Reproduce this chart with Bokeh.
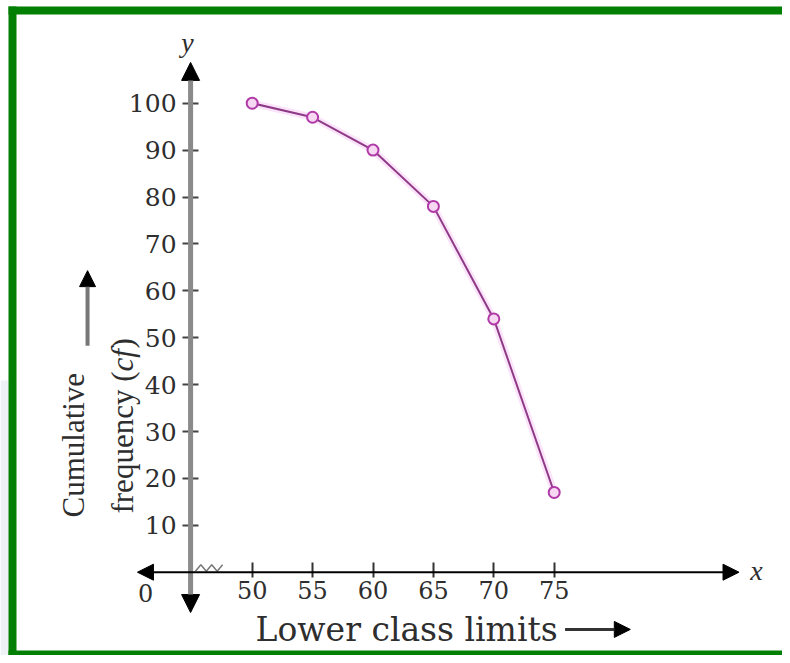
import math
from bokeh.plotting import figure
from bokeh.models import LinearAxis, FixedTicker, Arrow, NormalHead
from bokeh.core.properties import value
from bokeh.embed import file_html
from bokeh.resources import INLINE

# ---- data ----
lower_limits = [50, 55, 60, 65, 70, 75]
cum_freq = [100, 97, 90, 78, 54, 17]
x_ticks = [50, 55, 60, 65, 70, 75]
y_ticks = [10, 20, 30, 40, 50, 60, 70, 80, 90, 100]
x_title = "Lower class limits"
y_title_1 = "Cumulative"
y_title_2 = "frequency ("
y_title_cf = "cf"
y_title_3 = ")"

# ---- layout ----
W, H = 782, 655
PX_X = 12.08   # pixels per x unit
PX_Y = 4.69    # pixels per y unit
X_LO = 50 - 251.7 / PX_X
X_HI = X_LO + W / PX_X
Y_HI = 571.7 / PX_Y
Y_LO = Y_HI - H / PX_Y
Y_AXIS_AT = 44.9


def px2x(px):
    return X_LO + px / PX_X


def py2y(py):
    return Y_HI - py / PX_Y


SERIF = value("DejaVu Serif")
TIMES = value("Liberation Serif")
TXT = "#2e2e2e"
GREEN = "#037f03"

p = figure(width=W, height=H, x_range=(X_LO, X_HI), y_range=(Y_LO, Y_HI),
           x_axis_type=None, y_axis_type=None, min_border=0,
           toolbar_location=None, output_backend="svg")
p.grid.visible = False
p.outline_line_color = None
p.background_fill_color = "white"
p.border_fill_color = "white"

# light margin strip at the far left
p.quad(left=[px2x(0)], right=[px2x(8)], top=[py2y(380)], bottom=[py2y(H)],
       fill_color="#eef1f6", line_color=None)

# green frame (left, top, bottom bands) drawn as thick lines
p.line([px2x(12), px2x(12)], [py2y(6), py2y(H)], line_color=GREEN, line_width=8)
p.line([px2x(8), px2x(W + 20)], [py2y(10), py2y(10)], line_color=GREEN, line_width=8)
p.line([px2x(8), px2x(W + 20)], [py2y(653), py2y(653)], line_color=GREEN, line_width=6)

# axes
xax = LinearAxis(fixed_location=0, ticker=FixedTicker(ticks=x_ticks))
xax.axis_line_color = None
xax.major_tick_in = 10
xax.major_tick_out = 5
xax.major_tick_line_color = "#333333"
xax.major_tick_line_width = 2
xax.minor_tick_line_color = None
xax.major_label_standoff = 4
xax.major_label_text_font = "DejaVu Serif"
xax.major_label_text_font_size = "24px"
xax.major_label_text_color = TXT
p.add_layout(xax, "below")

yax = LinearAxis(fixed_location=Y_AXIS_AT, ticker=FixedTicker(ticks=y_ticks))
yax.axis_line_color = None
yax.major_tick_in = 8
yax.major_tick_out = 8
yax.major_tick_line_color = "#444444"
yax.major_tick_line_width = 2
yax.minor_tick_line_color = None
yax.major_label_standoff = 6
yax.major_label_text_font = "DejaVu Serif"
yax.major_label_text_font_size = "25px"
yax.major_label_text_color = TXT
p.add_layout(yax, "left")

# axis lines with arrowheads
p.add_layout(Arrow(x_start=Y_AXIS_AT, y_start=-8.6, x_end=Y_AXIS_AT, y_end=108.7,
                   line_color="#8a8a8a", line_width=5,
                   start=NormalHead(size=18, fill_color="black", line_color="black"),
                   end=NormalHead(size=18, fill_color="black", line_color="black")))
p.add_layout(Arrow(x_start=40.5, y_start=0, x_end=90.3, y_end=0,
                   line_color="black", line_width=2,
                   start=NormalHead(size=16, fill_color="black", line_color="black"),
                   end=NormalHead(size=16, fill_color="black", line_color="black")))

# axis break zigzag
p.line([45.3, 45.75, 46.2, 46.65, 47.1, 47.55], [0.2, 1.6, 0.2, 1.6, 0.2, 1.6],
       line_color="#777777", line_width=1.5)

# data curve
p.line(lower_limits, cum_freq, line_color="#f5b8f2", line_width=7, line_alpha=0.4)
p.line(lower_limits, cum_freq, line_color="#8e3a86", line_width=2)
p.scatter(lower_limits, cum_freq, marker="circle", size=11, line_color="#b23aa8",
          line_width=2, fill_color="#f6d8f3")

# labels
p.text(x=[41.17], y=[-4.33], text=["0"], text_font=SERIF, text_font_size="24px",
       text_color=TXT, text_align="center", text_baseline="middle")
p.text(x=[91.75], y=[0.3], text=["x"], text_font=TIMES, text_font_style="italic",
       text_font_size="28px", text_color=TXT, text_align="center", text_baseline="middle")
p.text(x=[44.64], y=[112.9], text=["y"], text_font=TIMES, text_font_style="italic",
       text_font_size="28px", text_color=TXT, text_align="center", text_baseline="middle")

p.text(x=[50.28], y=[-12.3], text=[x_title], text_font=SERIF, text_font_size="33px",
       text_color=TXT, text_align="left", text_baseline="middle")
p.add_layout(Arrow(x_start=75.9, y_start=-12.2, x_end=81.3, y_end=-12.2,
                   line_color="#333333", line_width=3,
                   end=NormalHead(size=16, fill_color="black", line_color="black")))

# y title (rotated)
p.text(x=[35.21], y=[11.66], text=[y_title_1], text_font=TIMES, text_font_size="31px",
       text_color=TXT, angle=math.pi / 2, text_align="left", text_baseline="alphabetic")
p.text(x=[39.26], y=[12.51], text=[y_title_2], text_font=TIMES, text_font_size="31px",
       text_color=TXT, angle=math.pi / 2, text_align="left", text_baseline="alphabetic")
p.text(x=[39.26], y=[12.51], y_offset=-142, text=[y_title_cf], text_font=TIMES,
       text_font_style="italic", text_font_size="31px",
       text_color=TXT, angle=math.pi / 2, text_align="left", text_baseline="alphabetic")
p.text(x=[39.26], y=[12.51], y_offset=-165, text=[y_title_3], text_font=TIMES,
       text_font_size="31px",
       text_color=TXT, angle=math.pi / 2, text_align="left", text_baseline="alphabetic")
p.add_layout(Arrow(x_start=36.37, y_start=48.3, x_end=36.37, y_end=64.3,
                   line_color="#777777", line_width=4,
                   end=NormalHead(size=16, fill_color="black", line_color="black")))

open("out.html", "w").write(file_html(p, INLINE))
